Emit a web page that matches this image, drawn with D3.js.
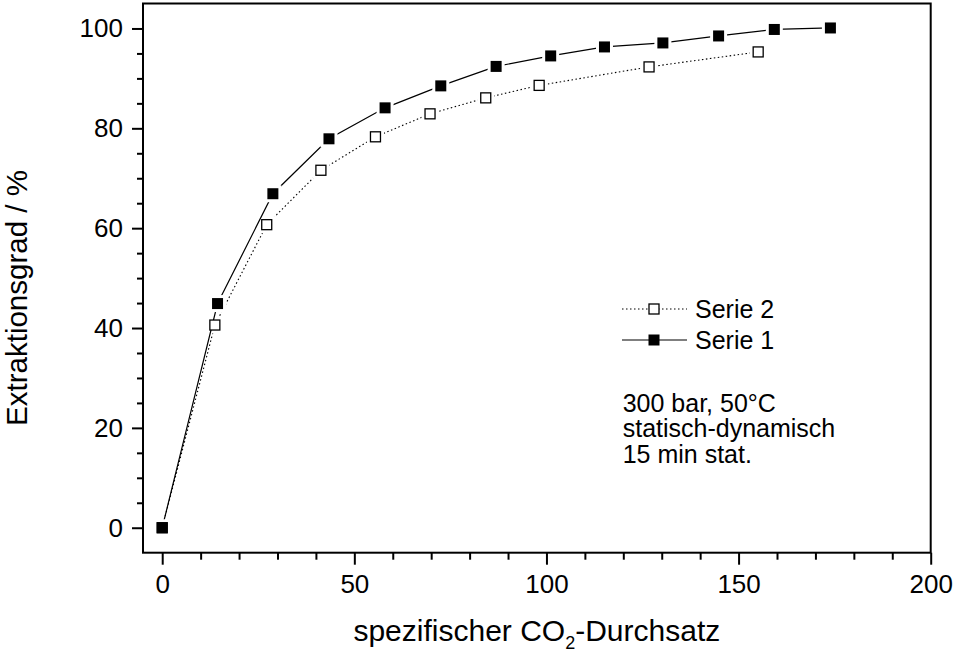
<!DOCTYPE html>
<html>
<head>
<meta charset="utf-8">
<script src="https://cdn.jsdelivr.net/npm/d3@7"></script>
<style>
    body { margin: 0; background: #fff; }
    svg { display: block; font-family: "Liberation Sans", Arial, sans-serif; }
</style>
</head>
<body>
<div id="graph"></div>
<script>
// values
const serie1X = [0, 14.4, 28.8, 43.4, 58.0, 72.5, 86.9, 101.1, 115.1, 130.3, 144.8, 159.3, 173.9];
const serie1Y = [0, 44.9, 66.9, 77.9, 84.1, 88.5, 92.4, 94.5, 96.3, 97.1, 98.5, 99.8, 100.1];
const serie2X = [0, 13.7, 27.2, 41.3, 55.5, 69.7, 84.2, 98.1, 126.7, 155.1];
const serie2Y = [0, 40.6, 60.7, 71.6, 78.3, 82.9, 86.1, 88.6, 92.3, 95.3];
const xTicks = [0, 50, 100, 150, 200];
const yTicks = [0, 20, 40, 60, 80, 100];
const notes = ["300 bar, 50°C", "statisch-dynamisch", "15 min stat."];

const width = 957;
const height = 652;

const x = d3.scaleLinear().domain([-5, 200]).range([143, 930.7]);
const y = d3.scaleLinear().domain([-5, 105]).range([552.7, 3.5]);

const svg = d3.select("#graph")
    .append("svg")
        .attr("width", width)
        .attr("height", height);

// frame
svg.append("rect")
    .attr("x", x.range()[0])
    .attr("y", y.range()[1])
    .attr("width", x.range()[1] - x.range()[0])
    .attr("height", y.range()[0] - y.range()[1])
    .attr("fill", "none")
    .attr("stroke", "#000")
    .attr("stroke-width", 2);

const xMinor = d3.range(0, 201, 10).filter(v => v % 50 !== 0);
const yMinor = d3.range(-5, 101, 5).filter(v => v % 20 !== 0 && v > -5);

const styleAxis = g => {
    g.select(".domain").remove();
    g.selectAll("line").attr("stroke", "#000").attr("stroke-width", 2);
    g.selectAll("text").attr("fill", "#000").attr("font-size", 26).attr("font-family", null);
};

svg.append("g")
    .attr("transform", `translate(0, ${y.range()[0]})`)
    .call(d3.axisBottom(x).tickValues(xMinor).tickSize(7).tickFormat(""))
    .call(styleAxis);

svg.append("g")
    .attr("transform", `translate(0, ${y.range()[0]})`)
    .call(d3.axisBottom(x).tickValues(xTicks).tickSize(12).tickPadding(10))
    .call(styleAxis);

svg.append("g")
    .attr("transform", `translate(${x.range()[0]}, 0)`)
    .call(d3.axisLeft(y).tickValues(yMinor).tickSize(6).tickFormat(""))
    .call(styleAxis);

svg.append("g")
    .attr("transform", `translate(${x.range()[0]}, 0)`)
    .call(d3.axisLeft(y).tickValues(yTicks).tickSize(11).tickPadding(9))
    .call(styleAxis);

// axis titles
const xTitle = svg.append("text")
    .attr("x", (x.range()[0] + x.range()[1]) / 2)
    .attr("y", 641)
    .attr("text-anchor", "middle")
    .attr("font-size", 30);
xTitle.append("tspan").text("spezifischer CO");
xTitle.append("tspan").attr("font-size", 18).attr("dy", 8).text("2");
xTitle.append("tspan").attr("dy", -8).text("-Durchsatz");

svg.append("text")
    .attr("transform", "translate(27, 298) rotate(-90)")
    .attr("text-anchor", "middle")
    .attr("font-size", 29.5)
    .text("Extraktionsgrad / %");

// series
const series = [
    { xs: serie2X, ys: serie2Y, fill: "#fff", dash: "1.5,2.5", width: 1.1 },
    { xs: serie1X, ys: serie1Y, fill: "#000", dash: null, width: 1.2 }
];

const line = d3.line()
    .x(d => x(d[0]))
    .y(d => y(d[1]));

series.forEach(s => {
    const pts = s.xs.map((v, i) => [v, s.ys[i]]);

    svg.append("path")
        .datum(pts)
        .attr("d", line)
        .attr("fill", "none")
        .attr("stroke", "#000")
        .attr("stroke-width", s.width)
        .attr("stroke-dasharray", s.dash);

    // white halo so the line stops short of the symbol
    svg.append("g").selectAll("rect")
        .data(pts)
        .join("rect")
            .attr("x", d => x(d[0]) - 8.5)
            .attr("y", d => y(d[1]) - 8.5)
            .attr("width", 17)
            .attr("height", 17)
            .attr("fill", "#fff");
});

series.forEach(s => {
    const pts = s.xs.map((v, i) => [v, s.ys[i]]);
    const sz = s.fill === "#000" ? 11 : 10;
    svg.append("g").selectAll("rect")
        .data(pts)
        .join("rect")
            .attr("x", d => x(d[0]) - sz / 2)
            .attr("y", d => y(d[1]) - sz / 2)
            .attr("width", sz)
            .attr("height", sz)
            .attr("fill", s.fill)
            .attr("stroke", "#000")
            .attr("stroke-width", s.fill === "#000" ? 0 : 1.3);
});

// legend
const legend = [
    { label: "Serie 2", s: series[0], y: 309 },
    { label: "Serie 1", s: series[1], y: 340 }
];

legend.forEach(l => {
    const g = svg.append("g");
    g.append("line")
        .attr("x1", 622).attr("x2", 687)
        .attr("y1", l.y).attr("y2", l.y)
        .attr("stroke", "#000")
        .attr("stroke-width", l.s.width)
        .attr("stroke-dasharray", l.s.dash);
    const sz = l.s.fill === "#000" ? 11 : 10;
    g.append("rect")
        .attr("x", 654 - sz / 2).attr("y", l.y - sz / 2)
        .attr("width", sz).attr("height", sz)
        .attr("fill", l.s.fill)
        .attr("stroke", "#000")
        .attr("stroke-width", l.s.fill === "#000" ? 0 : 1.3);
    g.append("text")
        .attr("x", 695)
        .attr("y", l.y + 9)
        .attr("font-size", 25)
        .text(l.label);
});

svg.append("g").selectAll("text")
    .data(notes)
    .join("text")
        .attr("x", 622.7)
        .attr("y", (d, i) => 411.7 + i * 25.5)
        .attr("font-size", 25)
        .text(d => d);
</script>
</body>
</html>
